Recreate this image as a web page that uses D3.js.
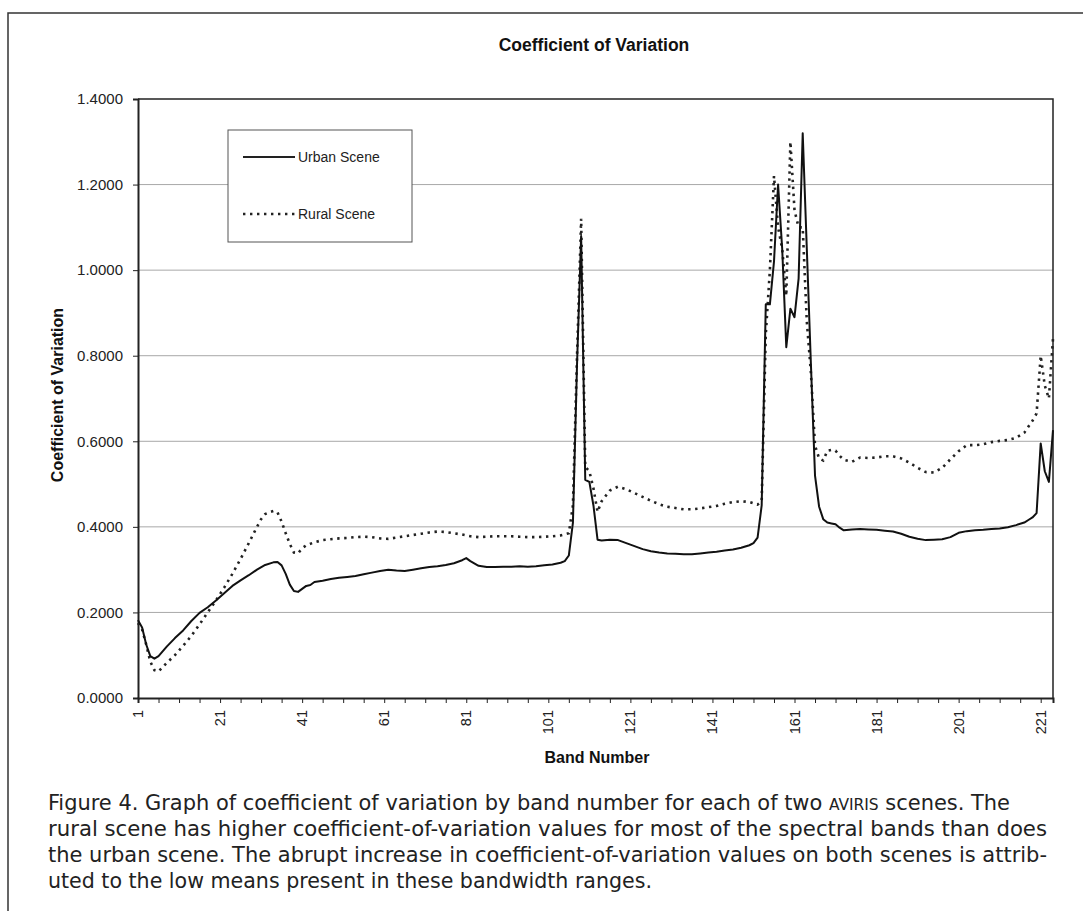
<!DOCTYPE html>
<html>
<head>
<meta charset="utf-8">
<script src="https://cdn.jsdelivr.net/npm/d3@7"></script>
<style>
  body { margin: 0; background: #fff; }
  svg { display: block; }
</style>
</head>
<body>
<script>

// urban scene (band number -> coefficient of variation)
var urbanBands = [1,2,3,4,5,6,8,10,12,14,16,18,20,22,24,26,28,30,32,34,35,36,37,38,39,40,41,42,43,44,46,48,50,52,54,56,58,60,62,64,66,68,70,72,74,76,78,80,81,82,84,86,88,90,92,94,96,98,100,102,104,105,106,107,108,109,110,111,112,113,114,116,118,120,122,124,126,128,130,132,134,136,138,140,142,144,146,148,150,151,152,153,154,155,156,157,158,159,160,161,162,163,164,165,166,167,168,169,170,171,172,173,175,177,179,181,183,185,187,189,191,193,195,197,199,201,203,205,207,209,211,213,215,217,218,219,220,221,222,223,224];
var urbanValues = [0.182,0.165,0.125,0.098,0.092,0.098,0.120,0.140,0.158,0.180,0.199,0.212,0.228,0.245,0.262,0.275,0.287,0.300,0.311,0.317,0.318,0.310,0.290,0.265,0.250,0.248,0.255,0.262,0.264,0.271,0.274,0.278,0.281,0.283,0.285,0.289,0.293,0.297,0.300,0.298,0.297,0.300,0.303,0.306,0.308,0.311,0.315,0.322,0.327,0.320,0.309,0.306,0.306,0.307,0.307,0.308,0.307,0.308,0.310,0.312,0.316,0.320,0.333,0.41,0.78,1.08,0.51,0.505,0.45,0.370,0.368,0.370,0.369,0.362,0.355,0.348,0.343,0.340,0.338,0.337,0.336,0.336,0.338,0.340,0.342,0.345,0.347,0.351,0.357,0.362,0.375,0.45,0.92,0.92,1.02,1.20,1.05,0.82,0.91,0.89,0.98,1.32,1.05,0.78,0.52,0.447,0.418,0.410,0.408,0.406,0.398,0.392,0.394,0.395,0.394,0.393,0.391,0.389,0.384,0.377,0.372,0.369,0.370,0.371,0.376,0.386,0.390,0.392,0.393,0.395,0.396,0.399,0.404,0.410,0.416,0.422,0.432,0.595,0.53,0.505,0.626];

// rural scene
var ruralBands = [1,2,3,4,5,6,7,8,10,12,14,16,18,20,22,24,26,28,30,31,32,33,34,35,36,37,38,39,40,41,42,44,46,48,50,52,54,56,58,60,62,64,66,68,70,72,74,76,78,80,82,84,86,88,90,92,94,96,98,100,102,104,106,107,108,109,110,111,112,113,114,116,118,120,122,124,126,128,130,132,134,136,138,140,142,144,146,148,150,152,153,154,155,156,157,158,159,160,161,162,163,164,165,166,167,168,169,170,171,172,173,175,177,179,181,183,185,187,189,191,193,195,197,199,201,203,205,207,209,211,213,215,217,219,220,221,222,223,224];
var ruralValues = [0.175,0.160,0.125,0.085,0.065,0.062,0.072,0.082,0.100,0.122,0.145,0.172,0.200,0.228,0.258,0.290,0.325,0.362,0.400,0.418,0.430,0.434,0.437,0.434,0.412,0.385,0.360,0.340,0.338,0.350,0.357,0.364,0.369,0.371,0.373,0.374,0.376,0.377,0.376,0.373,0.372,0.375,0.378,0.381,0.384,0.387,0.389,0.388,0.385,0.382,0.378,0.376,0.377,0.378,0.378,0.378,0.377,0.376,0.376,0.377,0.378,0.380,0.385,0.45,0.80,1.12,0.54,0.53,0.49,0.435,0.460,0.485,0.494,0.488,0.479,0.470,0.461,0.453,0.447,0.444,0.441,0.441,0.443,0.446,0.449,0.454,0.458,0.460,0.458,0.452,0.46,0.85,1.00,1.22,1.10,1.05,0.94,1.30,1.14,1.10,1.10,0.88,0.76,0.59,0.56,0.555,0.578,0.580,0.578,0.566,0.557,0.552,0.562,0.561,0.562,0.565,0.565,0.560,0.550,0.538,0.528,0.527,0.538,0.558,0.577,0.591,0.591,0.593,0.598,0.601,0.603,0.608,0.620,0.648,0.665,0.80,0.73,0.70,0.84];

var yTicks = [0, 0.2, 0.4, 0.6, 0.8, 1.0, 1.2, 1.4];
var xLabelTicks = [1, 21, 41, 61, 81, 101, 121, 141, 161, 181, 201, 221];
var xMinorTicks = d3.range(1, 225, 5);

var seriesNames = ["Urban Scene", "Rural Scene"];

var captionLines = [
  ["Figure 4. Graph of coefficient of variation by band number for each of two ", "AVIRIS", " scenes. The"],
  ["rural scene has higher coefficient-of-variation values for most of the spectral bands than does"],
  ["the urban scene. The abrupt increase in coefficient-of-variation values on both scenes is attrib-"],
  ["uted to the low means present in these bandwidth ranges."]
];
var captionWidths = [962, 999, 999, 604];

var W = 1083, H = 911;
var plot = { left: 138, top: 99, right: 1053, bottom: 698 };

var svg = d3.select("body").append("svg")
  .attr("width", W)
  .attr("height", H)
  .style("font-family", "'Liberation Sans', Arial, sans-serif");

// page frame (scan border)
svg.append("path")
  .attr("d", "M8,911V13H1083")
  .attr("fill", "none")
  .attr("stroke", "#333")
  .attr("stroke-width", 1.5);

var x = d3.scaleLinear().domain([1, 224]).range([plot.left, plot.right]);
var y = d3.scaleLinear().domain([0, 1.4]).range([plot.bottom, plot.top]);

// gridlines
svg.append("g").attr("class", "grid")
  .selectAll("line")
  .data(yTicks.filter(function(d) { return d > 0 && d < 1.4; }))
  .join("line")
  .attr("x1", plot.left).attr("x2", plot.right)
  .attr("y1", function(d) { return y(d); })
  .attr("y2", function(d) { return y(d); })
  .attr("stroke", "#a8a8a8")
  .attr("stroke-width", 1);

// plot frame top + right
svg.append("path")
  .attr("d", "M" + plot.left + "," + plot.top + "H" + plot.right + "V" + plot.bottom)
  .attr("fill", "none")
  .attr("stroke", "#222")
  .attr("stroke-width", 1.5);

// y axis
var yAxis = svg.append("g")
  .attr("transform", "translate(" + plot.left + ",0)")
  .call(d3.axisLeft(y).tickValues(yTicks).tickFormat(d3.format(".4f")).tickSize(5).tickPadding(10));

// x axis
var xAxis = svg.append("g")
  .attr("transform", "translate(0," + plot.bottom + ")")
  .call(d3.axisBottom(x).tickValues(xMinorTicks).tickFormat("").tickSize(5));

svg.append("g")
  .attr("transform", "translate(0," + plot.bottom + ")")
  .selectAll("text")
  .data(xLabelTicks)
  .join("text")
  .attr("transform", function(d) { return "translate(" + (x(d) + 5) + ",12) rotate(-90)"; })
  .attr("text-anchor", "end")
  .attr("font-size", 14.5)
  .attr("fill", "#222")
  .text(function(d) { return d; });

[yAxis, xAxis].forEach(function(ax) {
  ax.select(".domain").attr("stroke", "#222").attr("stroke-width", 2);
  ax.selectAll(".tick line").attr("stroke", "#222");
  ax.selectAll(".tick text")
    .attr("font-size", 15)
    .attr("font-family", "'Liberation Sans', Arial, sans-serif")
    .attr("fill", "#222");
});

// lines
var line = d3.line()
  .x(function(d) { return x(d[0]); })
  .y(function(d) { return y(d[1]); });

var urban = d3.zip(urbanBands, urbanValues);
var rural = d3.zip(ruralBands, ruralValues);

svg.append("path")
  .datum(rural)
  .attr("d", line)
  .attr("fill", "none")
  .attr("stroke", "#222")
  .attr("stroke-width", 2.6)
  .attr("stroke-dasharray", "2.4,4.6");

svg.append("path")
  .datum(urban)
  .attr("d", line)
  .attr("fill", "none")
  .attr("stroke", "#111")
  .attr("stroke-width", 2)
  .attr("stroke-linejoin", "round");

// titles
svg.append("text")
  .attr("x", 594).attr("y", 51)
  .attr("text-anchor", "middle")
  .attr("font-size", 17.5).attr("font-weight", "bold")
  .attr("fill", "#111")
  .text("Coefficient of Variation");

svg.append("text")
  .attr("transform", "translate(63,395) rotate(-90)")
  .attr("text-anchor", "middle")
  .attr("font-size", 16).attr("font-weight", "bold")
  .attr("fill", "#111")
  .text("Coefficient of Variation");

svg.append("text")
  .attr("x", 597).attr("y", 763)
  .attr("text-anchor", "middle")
  .attr("font-size", 16).attr("font-weight", "bold")
  .attr("fill", "#111")
  .text("Band Number");

// legend
var legend = svg.append("g").attr("transform", "translate(228,130)");

legend.append("rect")
  .attr("width", 184).attr("height", 112)
  .attr("fill", "#fff")
  .attr("stroke", "#555")
  .attr("stroke-width", 1);

seriesNames.forEach(function(name, i) {
  var ly = 27 + i * 57;
  legend.append("line")
    .attr("x1", 15).attr("x2", 67)
    .attr("y1", ly).attr("y2", ly)
    .attr("stroke", "#222")
    .attr("stroke-width", i == 0 ? 2 : 2.4)
    .attr("stroke-dasharray", i == 0 ? null : "2.4,4.6");
  legend.append("text")
    .attr("x", 70).attr("y", ly + 5)
    .attr("font-size", 14)
    .attr("fill", "#222")
    .text(name);
});

// caption
var caption = svg.append("g")
  .style("font-family", "'DejaVu Sans Condensed', 'Liberation Sans Narrow', sans-serif")
  .attr("fill", "#222");

captionLines.forEach(function(parts, i) {
  var t = caption.append("text")
    .attr("x", 48)
    .attr("y", 810 + i * 26)
    .attr("font-size", 21)
    .attr("textLength", captionWidths[i])
    .attr("lengthAdjust", "spacingAndGlyphs");
  parts.forEach(function(p) {
    t.append("tspan")
      .attr("font-size", p == "AVIRIS" ? 15.5 : 21)
      .text(p);
  });
});

</script>
</body>
</html>
